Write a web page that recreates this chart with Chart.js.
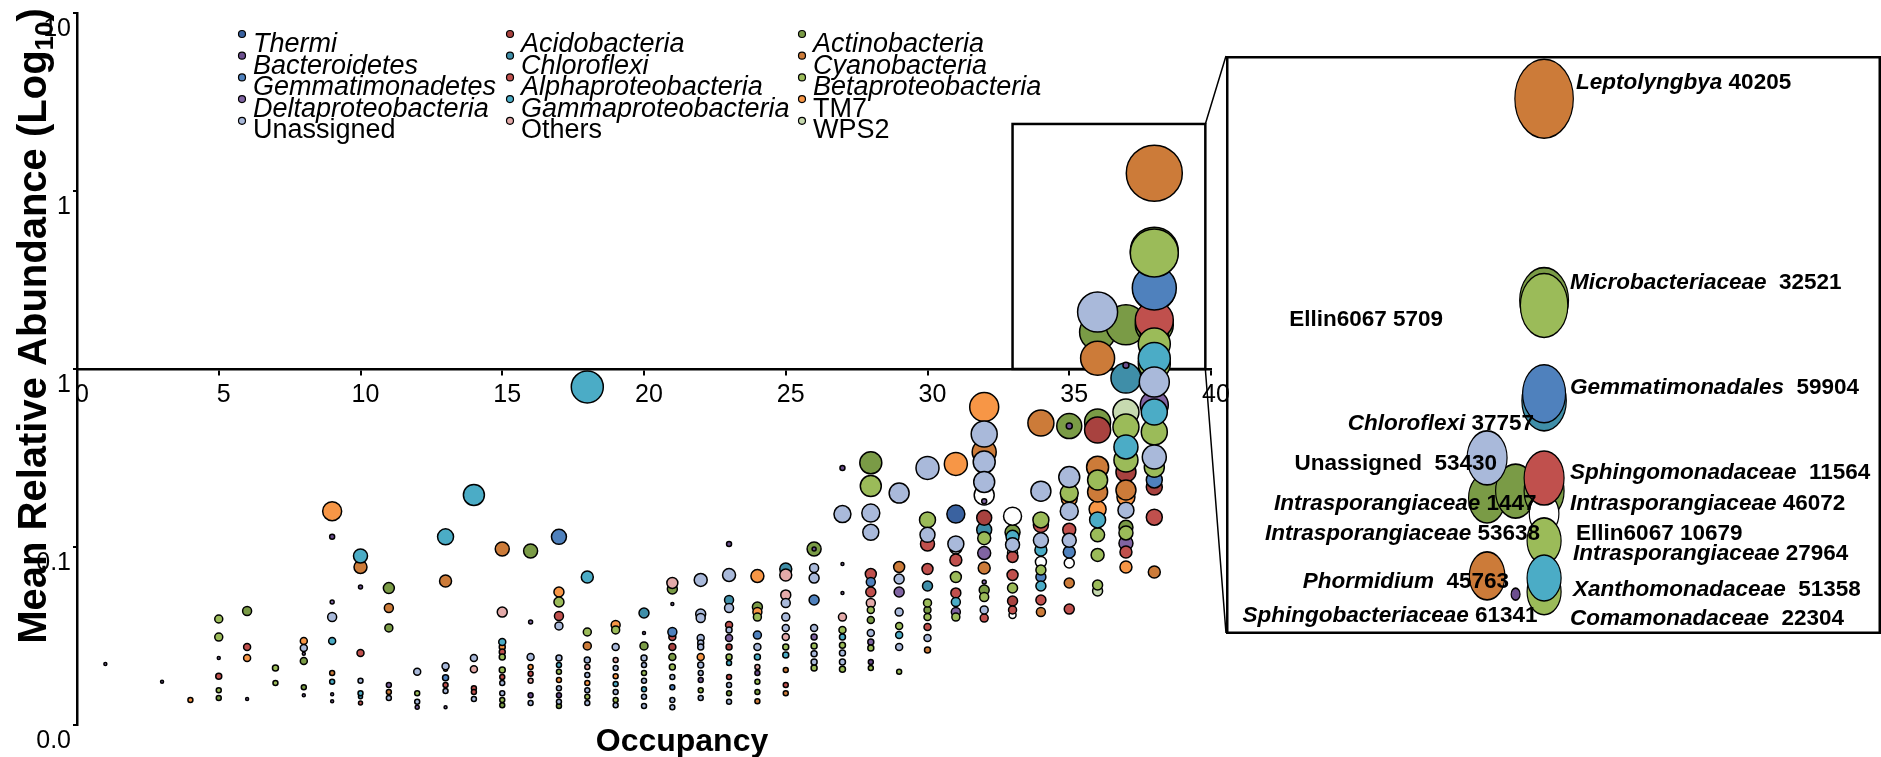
<!DOCTYPE html>
<html>
<head>
<meta charset="utf-8">
<script src="https://cdn.jsdelivr.net/npm/chart.js@4.4.1/dist/chart.umd.min.js"></script>
<style>
  body { margin: 0; background: #fff; }
  #wrap { position: relative; width: 1881px; height: 757px; overflow: hidden; }
  #main { position: absolute; left: 0; top: 0; }
  #inset { position: absolute; left: 1226px; top: 56px; }
</style>
</head>
<body>
<div id="wrap">
  <canvas id="main" width="1881" height="757"></canvas>
  <canvas id="inset" width="655" height="578"></canvas>
</div>
<script>
// each point: [occupancy, mean relative abundance, bubble size]
const thermi = [[31, 0.0153, 9]];
const bacteroidetes = [[3, 0.00175, 1.5], [9, 0.0114, 2.5], [10, 0.00596, 2], [16, 0.00147, 2.5], [17, 0.00147, 2.5],
  [23, 0.0104, 2.5], [24, 0.00196, 2.5], [26, 0.00975, 2], [27, 0.0278, 2.5], [28, 0.00226, 2.5], [35, 0.0478, 3], [37, 0.105, 3]];
const gemmatimonadetes = [[13, 0.00184, 3], [17, 0.0114, 7.5], [21, 0.00333, 4.5], [21, 0.00163, 2.5], [24, 0.0032, 4],
  [26, 0.00504, 5], [28, 0.00636, 4.5], [34, 0.00678, 5], [35, 0.00937, 6], [38, 0.285, 22], [38, 0.0238, 8]];
const deltaproteobacteria = [[1, 0.0022, 1.5], [5, 0.00238, 1.5], [6, 0.0014, 1.5], [8, 0.00251, 1.5], [8, 0.00147, 1.5],
  [9, 0.00491, 2], [9, 0.00149, 1.5], [9, 0.00136, 1.5], [11, 0.00168, 2.5], [12, 0.00126, 2], [13, 0.00126, 1.5],
  [16, 0.00379, 2], [20, 0.00329, 1.5], [21, 0.00478, 1.5], [22, 0.00179, 2.5], [23, 0.00308, 3.5], [26, 0.00312, 3],
  [27, 0.00802, 1.5], [27, 0.00552, 1.5], [28, 0.00293, 3], [29, 0.00559, 5], [31, 0.00431, 4.5], [32, 0.0181, 2.5],
  [32, 0.00925, 6.5], [32, 0.00636, 2], [37, 0.0247, 4], [37, 0.0105, 7], [38, 0.0628, 14]];
const unassigned = [[8, 0.00271, 3.5], [9, 0.00404, 4.5], [10, 0.00177, 2.5], [11, 0.00142, 2.5], [12, 0.00199, 3.5],
  [12, 0.00135, 2.5], [13, 0.00214, 3.5], [13, 0.00155, 2.5], [14, 0.00238, 3.5], [14, 0.0014, 2.5], [15, 0.00172, 2.5],
  [15, 0.00151, 2.5], [16, 0.00241, 3.5], [16, 0.00133, 2.5], [17, 0.0036, 4], [17, 0.00238, 3], [17, 0.00161, 2.5],
  [17, 0.00135, 2.5], [18, 0.00232, 3], [18, 0.00191, 2.5], [18, 0.00157, 2.5], [18, 0.00133, 2.5], [19, 0.00274, 3.5],
  [19, 0.00209, 2.5], [19, 0.00153, 2.5], [19, 0.00129, 2.5], [20, 0.00238, 3], [20, 0.00217, 2.5], [20, 0.00177, 2.5],
  [20, 0.00144, 2.5], [20, 0.00128, 2.5], [21, 0.00186, 2.5], [21, 0.00138, 2.5], [21, 0.00126, 2.5], [22, 0.00653, 6.5],
  [22, 0.0042, 5], [22, 0.00399, 4.5], [22, 0.00308, 3.5], [22, 0.00289, 3], [22, 0.00274, 3], [22, 0.00217, 3],
  [22, 0.00196, 2.5], [22, 0.00142, 2.5], [23, 0.00696, 6.5], [23, 0.00454, 4.5], [23, 0.00342, 3], [23, 0.00168, 2.5],
  [23, 0.00135, 2.5], [24, 0.00274, 3.5], [25, 0.00485, 4.5], [25, 0.00404, 4], [25, 0.00351, 3.5], [26, 0.00762, 4.5],
  [26, 0.00669, 5], [26, 0.00351, 3.5], [26, 0.00251, 3], [26, 0.00226, 3], [27, 0.0153, 8.5], [27, 0.00254, 3],
  [27, 0.00226, 3], [28, 0.0155, 9], [28, 0.0121, 8], [28, 0.00329, 3.5], [29, 0.0201, 10], [29, 0.00661, 5],
  [29, 0.00431, 4], [29, 0.00274, 3.5], [30, 0.0278, 11.5], [30, 0.0117, 7.5], [30, 0.00308, 3.5], [31, 0.0104, 8],
  [32, 0.0431, 13], [32, 0.03, 11], [32, 0.0232, 10.5], [32, 0.00443, 4], [33, 0.0103, 7], [34, 0.0206, 10],
  [34, 0.0109, 7.5], [35, 0.0247, 10.5], [35, 0.0159, 9], [35, 0.0109, 7], [36, 0.209, 20], [37, 0.0161, 8],
  [38, 0.0845, 15], [38, 0.032, 12]];
const acidobacteria = [[21, 0.00274, 3.5], [23, 0.00274, 3], [32, 0.0146, 7.5], [33, 0.00497, 5], [36, 0.0454, 13],
  [37, 0.0264, 10], [38, 0.0217, 8]];
const chloroflexi = [[10, 0.00144, 2], [20, 0.00426, 5], [23, 0.00504, 4.5], [25, 0.00752, 6], [30, 0.00604, 5],
  [32, 0.0125, 7.5], [37, 0.0889, 15], [38, 0.278, 21]];
const alphaproteobacteria = [[5, 0.00188, 3], [6, 0.00274, 3.5], [10, 0.00254, 3.5], [10, 0.00133, 2], [13, 0.00168, 2.5],
  [14, 0.00161, 2.5], [14, 0.00153, 2.5], [15, 0.00257, 3], [15, 0.00186, 2.5], [16, 0.00194, 2.5], [17, 0.0041, 4.5],
  [21, 0.00312, 3.5], [23, 0.00365, 3.5], [23, 0.00186, 2.5], [25, 0.00168, 2.5], [28, 0.00705, 5.5], [28, 0.00559, 5],
  [30, 0.0104, 7], [30, 0.00752, 5.5], [30, 0.00355, 3.5], [31, 0.00845, 6], [31, 0.00552, 5], [32, 0.00399, 4],
  [33, 0.00879, 5.5], [33, 0.00696, 5.5], [33, 0.00443, 4], [34, 0.0133, 7.5], [34, 0.00504, 5], [35, 0.0125, 6.5],
  [35, 0.00448, 5], [37, 0.00937, 6], [38, 0.188, 19], [38, 0.0147, 8]];
const gammaproteobacteria = [[9, 0.00296, 3.5], [9, 0.00175, 2.5], [10, 0.0089, 7], [10, 0.00151, 2.5], [13, 0.0114, 8],
  [14, 0.0196, 10.5], [15, 0.00293, 3.5], [17, 0.00217, 2.5], [18, 0.0793, 16], [18, 0.00678, 6], [19, 0.0017, 2.5],
  [20, 0.00159, 2.5], [23, 0.00223, 2.5], [24, 0.00241, 3], [25, 0.00247, 3], [27, 0.00312, 3], [29, 0.0032, 3.5],
  [31, 0.00491, 4.5], [33, 0.0114, 6.5], [34, 0.00962, 6], [34, 0.00604, 5], [36, 0.0142, 8], [37, 0.0365, 12],
  [38, 0.1146, 16], [38, 0.0573, 13]];
const others = [[14, 0.00206, 3.5], [15, 0.00431, 5], [16, 0.00177, 2.5], [18, 0.00212, 2.5], [19, 0.00232, 2.5],
  [21, 0.00628, 5.5], [24, 0.00212, 2.5], [25, 0.00696, 6], [25, 0.00538, 5], [25, 0.00312, 3.5], [27, 0.00404, 4],
  [28, 0.00485, 4.5]];
const actinobacteria = [[5, 0.00142, 2.5], [6, 0.00437, 4.5], [8, 0.00229, 3.5], [8, 0.00163, 2.5], [11, 0.00588, 5.5],
  [11, 0.00351, 4], [15, 0.00129, 2.5], [16, 0.0095, 7], [17, 0.00128, 2.5], [20, 0.00278, 4], [21, 0.00581, 5],
  [21, 0.00241, 3.5], [23, 0.00151, 2.5], [24, 0.0046, 5], [24, 0.00153, 2.5], [26, 0.00975, 7], [28, 0.0297, 11],
  [28, 0.00389, 3.5], [30, 0.00443, 3.5], [32, 0.00573, 5], [33, 0.0121, 7.5], [35, 0.0478, 12.5], [36, 0.161, 18],
  [36, 0.0504, 13], [37, 0.177, 20], [37, 0.0129, 7], [38, 0.459, 24], [38, 0.177, 19]];
const cyanobacteria = [[9, 0.00196, 2.5], [10, 0.00772, 6.5], [11, 0.00454, 4.5], [11, 0.00153, 2.5], [13, 0.00644, 6],
  [15, 0.00975, 7], [18, 0.00278, 4], [24, 0.00136, 2.5], [25, 0.00204, 2.5], [25, 0.00151, 2.5], [29, 0.00772, 5.5],
  [30, 0.00264, 3], [32, 0.0342, 12], [32, 0.00762, 6], [34, 0.0497, 13], [34, 0.00431, 4.5], [35, 0.00628, 5],
  [36, 0.115, 17], [36, 0.0281, 11], [36, 0.0204, 10], [37, 0.0209, 10], [38, 1.26, 28], [38, 0.00724, 6]];
const betaproteobacteria = [[5, 0.00394, 4], [5, 0.00312, 4], [5, 0.00157, 2.5], [7, 0.00209, 3], [7, 0.00172, 2.5],
  [12, 0.00151, 2.5], [15, 0.00241, 3], [15, 0.00204, 3], [15, 0.00138, 2.5], [17, 0.00491, 5], [17, 0.00199, 2.5],
  [18, 0.00333, 4], [18, 0.00144, 2.5], [19, 0.00342, 4], [19, 0.00138, 2.5], [20, 0.00196, 2.5], [21, 0.00212, 3],
  [22, 0.00157, 2.5], [23, 0.00241, 3], [24, 0.00404, 4], [24, 0.00175, 2.5], [25, 0.00274, 3], [26, 0.00278, 3],
  [26, 0.00209, 3], [27, 0.00342, 3.5], [27, 0.00281, 3], [27, 0.00206, 3], [28, 0.022, 10.5], [28, 0.00443, 3.5],
  [28, 0.00271, 3], [28, 0.00209, 2.5], [29, 0.0036, 3.5], [29, 0.00199, 2.5], [30, 0.0142, 8], [30, 0.00485, 4],
  [30, 0.00404, 3.5], [31, 0.00678, 5.5], [31, 0.00404, 4], [32, 0.0112, 6.5], [32, 0.00524, 4.5], [33, 0.00588, 5],
  [34, 0.0142, 8], [34, 0.00743, 5], [35, 0.0201, 9], [36, 0.0238, 10], [36, 0.0117, 7], [36, 0.00902, 6.5],
  [36, 0.00612, 5], [37, 0.0472, 13], [37, 0.0308, 12], [37, 0.012, 7], [38, 0.449, 24], [38, 0.138, 16],
  [38, 0.107, 16], [38, 0.0443, 13], [38, 0.0281, 10]];
const tm7 = [[4, 0.00138, 2.5], [6, 0.00238, 3.5], [8, 0.00296, 3.5], [9, 0.0159, 9.5], [13, 0.00206, 2], [15, 0.00274, 3],
  [16, 0.00212, 2.5], [17, 0.00559, 5], [17, 0.00179, 2.5], [18, 0.00172, 2.5], [19, 0.00365, 4.5], [19, 0.00188, 2.5],
  [22, 0.00241, 3.5], [24, 0.00687, 6.5], [24, 0.00431, 4.5], [31, 0.0293, 11.5], [32, 0.0612, 14.5], [35, 0.0188, 8],
  [36, 0.0163, 8.5], [37, 0.0191, 9], [37, 0.00772, 6]];
const wps2 = [[36, 0.00566, 5], [37, 0.0573, 13]];
const unfilled = [[31, 0.00987, 6], [32, 0.0196, 10], [33, 0.0149, 9], [33, 0.00925, 5], [33, 0.00415, 3.5],
  [34, 0.00824, 5.5], [35, 0.00813, 5], [38, 0.158, 14]];

const yTickValues = [0.001, 0.01, 0.1, 1, 10];
const yTickLabels = ['0.0', '0.1', '1', '1', '10'];

// legend, column by column
const legendColumns = [
  ['Thermi', 'Bacteroidetes', 'Gemmatimonadetes', 'Deltaproteobacteria', 'Unassigned'],
  ['Acidobacteria', 'Chloroflexi', 'Alphaproteobacteria', 'Gammaproteobacteria', 'Others'],
  ['Actinobacteria', 'Cyanobacteria', 'Betaproteobacteria', 'TM7', 'WPS2']
];
const plainNames = ['Unassigned', 'Others', 'TM7', 'WPS2', 'Ellin6067'];

// zoomed inset, drawn back to front
const insetNames = ['Ellin6067', 'Microbacteriaceae', 'Leptolyngbya', 'Chloroflexi', 'Gemmatimonadales',
  'Intrasporangiaceae', 'Intrasporangiaceae', 'Unassigned', 'Intrasporangiaceae', 'Ellin6067', 'Sphingomonadaceae',
  'Comamonadaceae', 'Intrasporangiaceae', 'Xanthomonadaceae', 'Phormidium', 'Sphingobacteriaceae'];
const insetIds = ['5709', '32521', '40205', '37757', '59904', '53638', '1447', '53430', '46072', '10679', '11564',
  '22304', '27964', '51358', '45763', '61341'];
const insetOccupancy = [38, 38, 38, 38, 38, 36, 37, 36, 38, 38, 38, 38, 38, 38, 36, 37];
const insetAbundance = [0.459, 0.448, 1.26, 0.278, 0.288, 0.171, 0.177, 0.209, 0.177, 0.158, 0.189, 0.107, 0.138,
  0.1146, 0.1158, 0.1057];
const insetSize = [33, 32, 39.5, 30, 29, 25, 27, 27, 27, 20, 27, 23, 23, 23, 24, 6];
const insetPhylum = ['Actinobacteria', 'Betaproteobacteria', 'Cyanobacteria', 'Chloroflexi', 'Gemmatimonadetes',
  'Actinobacteria', 'Actinobacteria', 'Unassigned', 'Actinobacteria', 'white', 'Alphaproteobacteria',
  'Betaproteobacteria', 'Betaproteobacteria', 'Gammaproteobacteria', 'Cyanobacteria', 'Bacteroidetes'];

const phylumColors = {
  Thermi: '#3a62a0', Bacteroidetes: '#6c4f8e', Gemmatimonadetes: '#4f81bd', Deltaproteobacteria: '#8064a2',
  Unassigned: '#a9b9da', Acidobacteria: '#a8423f', Chloroflexi: '#3f8ea8', Alphaproteobacteria: '#c0504d',
  Gammaproteobacteria: '#4bacc6', Others: '#e3aaa9', Actinobacteria: '#7a9b46', Cyanobacteria: '#cc7b39',
  Betaproteobacteria: '#9bbb59', TM7: '#f79646', WPS2: '#c7dab0', white: '#ffffff'
};

// first in this list is painted on top
const drawOrder = [
  ['Unassigned', unassigned], ['Gammaproteobacteria', gammaproteobacteria], ['Betaproteobacteria', betaproteobacteria],
  ['Gemmatimonadetes', gemmatimonadetes], ['Alphaproteobacteria', alphaproteobacteria], ['Cyanobacteria', cyanobacteria],
  ['TM7', tm7], ['Acidobacteria', acidobacteria], ['Deltaproteobacteria', deltaproteobacteria],
  ['Bacteroidetes', bacteroidetes], ['Others', others], ['WPS2', wps2], ['white', unfilled],
  ['Chloroflexi', chloroflexi], ['Actinobacteria', actinobacteria], ['Thermi', thermi]
];

// label placement in the inset: side, dx, dy from bubble centre, spaces between name and id
const insetLabelLayout = [
  ['left', -101, 19, 1], ['right', 26, -23, 2], ['right', 32, -16, 1], ['left', -10, 23, 1], ['right', 26, -6, 2],
  ['left', 53, 36, 1], ['left', 21, 13, 1], ['left', 10, 6, 2], ['right', 26, 13, 1], ['right', 32, 20, 1],
  ['right', 26, -5, 2], ['right', 26, 27, 2], ['right', 29, 13, 1], ['right', 29, 12, 2], ['left', 22, 6, 2],
  ['left', 22, 22, 1]
];

const INSET_LEFT = 1226, INSET_TOP = 56, INSET_W = 655, INSET_H = 578;
const ELLIPSE_X = 0.74;

Chart.defaults.font.family = '"Liberation Sans", Arial, sans-serif';
Chart.defaults.color = '#000';

const datasets = drawOrder.map(([name, pts]) => ({
  label: name,
  data: pts.map(p => ({x: p[0], y: p[1], r: p[2]})),
  backgroundColor: phylumColors[name],
  borderColor: '#000',
  borderWidth: 1.5,
  clip: false
}));

// titles, legend and the zoom box
const decorations = {
  id: 'decorations',
  beforeDatasetsDraw(chart) {
    const ctx = chart.ctx, x = chart.scales.x, y = chart.scales.y;
    const x0 = x.getPixelForValue(33.0), x1 = x.getPixelForValue(39.8);
    const y0 = y.getPixelForValue(2.38), y1 = y.getPixelForValue(0.1);
    ctx.save();
    ctx.strokeStyle = '#000';
    ctx.lineWidth = 2.5;
    ctx.strokeRect(x0, y0, x1 - x0, y1 - y0);
    ctx.lineWidth = 1.5;
    ctx.beginPath();
    ctx.moveTo(x1, y0); ctx.lineTo(INSET_LEFT, INSET_TOP);
    ctx.moveTo(x1, y1); ctx.lineTo(INSET_LEFT, INSET_TOP + INSET_H - 1);
    ctx.stroke();
    ctx.restore();
  },
  afterDraw(chart) {
    const ctx = chart.ctx;
    ctx.save();
    ctx.fillStyle = '#000';

    // legend
    const dotX = [242, 510, 802];
    legendColumns.forEach((col, c) => {
      col.forEach((name, r) => {
        ctx.beginPath();
        ctx.arc(dotX[c], 34 + r * 21.7, 3.5, 0, Math.PI * 2);
        ctx.fillStyle = phylumColors[name];
        ctx.fill();
        ctx.lineWidth = 1.2;
        ctx.strokeStyle = '#000';
        ctx.stroke();
        ctx.fillStyle = '#000';
        ctx.font = (plainNames.includes(name) ? '' : 'italic ') + '27px "Liberation Sans", Arial, sans-serif';
        ctx.textAlign = 'left';
        ctx.textBaseline = 'alphabetic';
        ctx.fillText(name, dotX[c] + 11, 52 + r * 21.5);
      });
    });

    // x title
    ctx.font = 'bold 32px "Liberation Sans", Arial, sans-serif';
    ctx.textAlign = 'center';
    ctx.fillText('Occupancy', 682, 751);

    // y title with subscript
    ctx.translate(46, 326);
    ctx.rotate(-Math.PI / 2);
    const big = 'bold 40px "Liberation Sans", Arial, sans-serif';
    const small = 'bold 26px "Liberation Sans", Arial, sans-serif';
    ctx.font = big;
    const a = 'Mean Relative Abundance (Log', c = ')';
    const wa = ctx.measureText(a).width, wc = ctx.measureText(c).width;
    ctx.font = small;
    const wb = ctx.measureText('10').width;
    const sx = -(wa + wb + wc) / 2;
    ctx.textAlign = 'left';
    ctx.font = big;
    ctx.fillText(a, sx, 0);
    ctx.font = small;
    ctx.fillText('10', sx + wa, 7);
    ctx.font = big;
    ctx.fillText(c, sx + wa + wb, 0);
    ctx.restore();
  }
};

new Chart(document.getElementById('main'), {
  type: 'bubble',
  data: {datasets: datasets},
  options: {
    responsive: false,
    animation: false,
    events: [],
    layout: {autoPadding: false, padding: {left: 0, top: 13, right: 670, bottom: 32}},
    plugins: {legend: {display: false}, tooltip: {enabled: false}},
    scales: {
      x: {
        type: 'linear', min: 0, max: 40, position: {y: 0.1},
        afterFit: s => { s.paddingLeft = 0; s.paddingRight = 0; },
        ticks: {stepSize: 5, font: {size: 25}, padding: 6, labelOffset: 5, maxRotation: 0, autoSkip: false},
        grid: {drawOnChartArea: false, drawTicks: true, tickLength: 5, color: '#000', lineWidth: 2},
        border: {display: true, color: '#000', width: 2.5}
      },
      y: {
        type: 'logarithmic', min: 0.001, max: 10,
        afterBuildTicks: s => { s.ticks = yTickValues.map(v => ({value: v})); },
        afterFit: s => { s.width = 77; s.paddingTop = 0; s.paddingBottom = 0; },
        ticks: {
          callback: v => yTickLabels[yTickValues.indexOf(v)],
          font: {size: 25}, padding: 2, labelOffset: 16, autoSkip: false
        },
        grid: {drawOnChartArea: false, drawTicks: true, tickLength: 4, color: '#000', lineWidth: 2},
        border: {display: true, color: '#000', width: 2.5}
      }
    }
  },
  plugins: [decorations]
});

// inset: bubbles stretched into ellipses, with labels
const squash = {
  id: 'squash',
  beforeDatasetsDraw(chart) {
    const ctx = chart.ctx;
    chart.getSortedVisibleDatasetMetas().forEach(meta => {
      meta.data.forEach(el => {
        ctx.save();
        ctx.translate(el.x, el.y);
        ctx.scale(ELLIPSE_X, 1);
        ctx.translate(-el.x, -el.y);
        el.draw(ctx, chart.chartArea);
        ctx.restore();
      });
    });
    return false;
  }
};

const insetLabels = {
  id: 'insetLabels',
  afterDraw(chart) {
    const ctx = chart.ctx;
    const meta = chart.getDatasetMeta(0);
    const fam = '22.5px "Liberation Sans", Arial, sans-serif';
    ctx.save();
    ctx.fillStyle = '#000';
    ctx.textBaseline = 'middle';
    ctx.textAlign = 'left';
    meta.data.forEach((el, i) => {
      const [side, dx, dy, gap] = insetLabelLayout[i];
      const name = insetNames[i];
      const nameFont = (plainNames.includes(name) ? 'bold ' : 'italic bold ') + fam;
      const idFont = 'bold ' + fam;
      ctx.font = nameFont;
      const wn = ctx.measureText(name + ' '.repeat(gap)).width;
      ctx.font = idFont;
      const wi = ctx.measureText(insetIds[i]).width;
      let sx = el.x + dx;
      if (side === 'left') sx -= wn + wi;
      ctx.font = nameFont;
      ctx.fillText(name, sx, el.y + dy);
      ctx.font = idFont;
      ctx.fillText(insetIds[i], sx + wn, el.y + dy);
    });
    // frame
    ctx.strokeStyle = '#000';
    ctx.lineWidth = 2.5;
    ctx.strokeRect(1.25, 1.25, INSET_W - 2.5, INSET_H - 2.5);
    ctx.restore();
  }
};

new Chart(document.getElementById('inset'), {
  type: 'bubble',
  data: {
    datasets: [{
      data: insetOccupancy.map((o, i) => ({x: o, y: insetAbundance[i], r: insetSize[i]})),
      backgroundColor: insetPhylum.map(p => phylumColors[p]),
      borderColor: '#000',
      borderWidth: 1.6,
      clip: false
    }]
  },
  options: {
    responsive: false,
    animation: false,
    events: [],
    layout: {autoPadding: false, padding: 0},
    plugins: {legend: {display: false}, tooltip: {enabled: false}},
    scales: {
      x: {type: 'linear', min: 26.84, max: 49.82, display: false},
      y: {type: 'logarithmic', min: 0.0866, max: 1.56, display: false}
    }
  },
  plugins: [squash, insetLabels]
});
</script>
</body>
</html>
